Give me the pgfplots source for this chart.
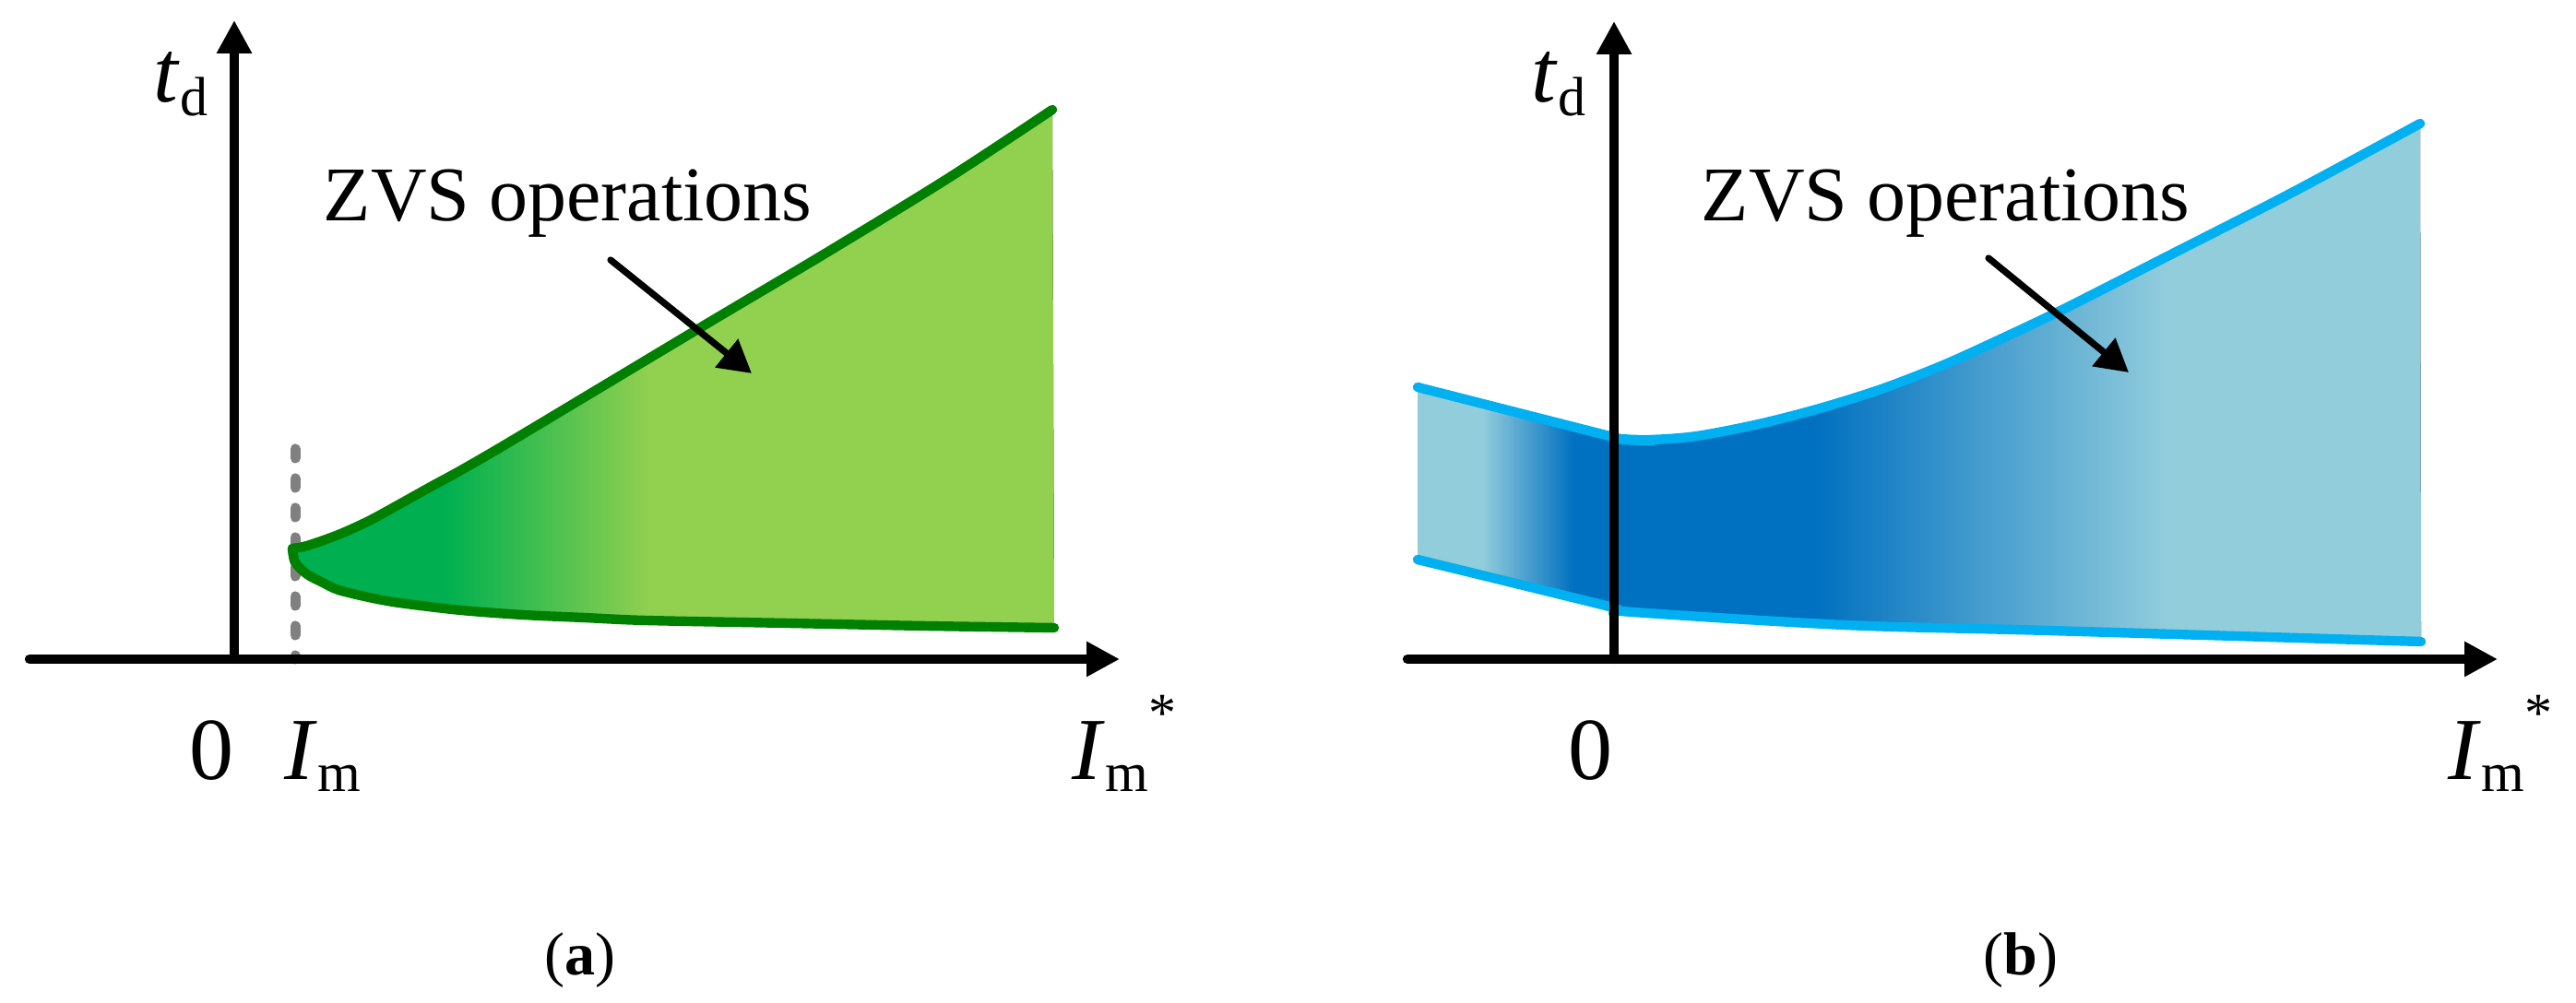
\documentclass[border=0pt]{standalone}
\usepackage{fontspec}
\setmainfont{Liberation Serif}
\usepackage{pgfplots}
\pgfplotsset{compat=1.18}
\usepgfplotslibrary{fillbetween}
\usetikzlibrary{arrows.meta}

\definecolor{gstroke}{HTML}{008000}
\definecolor{gdark}{HTML}{00B050}
\definecolor{glight}{HTML}{92D050}
\definecolor{bstroke}{HTML}{00B0F0}
\definecolor{bdark}{HTML}{0070C0}
\definecolor{blight}{HTML}{92CDDC}
\definecolor{dgray}{HTML}{808080}

\pgfdeclarehorizontalshading{greenfill}{100bp}{color(0bp)=(gdark); color(35.1bp)=(gdark); color(48.5bp)=(glight); color(100bp)=(glight)}
\pgfdeclarehorizontalshading{bluefill}{100bp}{color(0bp)=(blight); color(28.2bp)=(blight); color(32.8bp)=(bdark); color(44.7bp)=(bdark); color(62.4bp)=(blight); color(100bp)=(blight)}

\newcommand\lbfont{\fontsize{24}{24}\selectfont}
\newcommand\lsfont{\fontsize{15}{15}\selectfont}
\newcommand\labtd{{\lbfont\textit{t}\raisebox{-3.75pt}{\lsfont d}}}
\newcommand\labIm{{\lbfont\textit{I}\raisebox{-3.25pt}{\lsfont m}}}
\newcommand\labIms{{\lbfont\textit{I}\raisebox{-3.25pt}{\lsfont m}\raisebox{13pt}{\lsfont *}}}
\newcommand\labzvs{{\fontsize{21}{21}\selectfont ZVS operations}}

\pgfplotstableread{
x y
63 120
79 123
113 135
146 150
179 168
213 187
246 205
306 240
506 360
639 439
773 521
887 596
}\upperA
\pgfplotstableread{
x y
63 120
66 105
79 92
96 83
113 75
146 67
179 61
246 53
313 48
379 45
446 42
600 39
750 36
889 34
}\lowerA
\pgfplotstableread{
x y
-213 295
-5 242
7 239
40 238
90 242
157 255
223 272
290 293
357 319
423 349
490 381
600 437
733 505
874 581
}\upperB
\pgfplotstableread{
x y
-213 108
-5 57
7 52
250 37
471 31
875 19
}\lowerB

\pgfplotsset{
  zvsaxis/.style={
    x=0.25pt, y=0.25pt,
    axis lines=middle, set layers, axis on top,
    xtick=\empty, ytick=\empty,
    clip=false, enlargelimits=false,
    anchor=south west,
    axis line style={line width=2.6pt, line cap=round, -{Triangle[length=9pt,width=9pt]}},
  }
}

\begin{document}
\begin{tikzpicture}
\path (0,0) rectangle (698.25pt,272pt);

% ---------------- panel (a)
\begin{axis}[zvsaxis, at={(8pt,93.25pt)}, xmin=-222, xmax=960, ymin=0, ymax=693]
\addplot[dgray, line width=2.75pt, line cap=round, dash pattern=on 2.5pt off 5.5pt]
  coordinates {(66,228) (66,0)};
\addplot[draw=none, name path=upA, smooth] table {\upperA};
\addplot[draw=none, name path=loA, smooth] table {\lowerA};
\addplot[shade, shading=greenfill, draw=none] fill between[of=upA and loA];
\addplot[gstroke, line width=2.6pt, line cap=round, smooth] table {\upperA};
\addplot[gstroke, line width=2.6pt, line cap=round, smooth] table {\lowerA};
\node[anchor=base west, inner sep=0] at (axis cs:96,475) {\labzvs};
\draw[line width=1.8pt, line cap=round, -{Triangle[length=8.75pt,width=9.5pt]}]
  (axis cs:408,433) -- (axis cs:561,310);
\node[anchor=base west, inner sep=0] at (axis cs:-88,604) {\labtd};
\node[anchor=base, inner sep=0] at (axis cs:-25,-131) {\lbfont 0};
\node[anchor=base west, inner sep=0] at (axis cs:54,-131) {\labIm};
\node[anchor=base west, inner sep=0] at (axis cs:908,-131) {\labIms};
\node[anchor=base, inner sep=0] at (axis cs:375,-343)
  {\fontsize{16.5}{16.5}\selectfont(\textbf{a})};
\end{axis}

% ---------------- panel (b)
\begin{axis}[zvsaxis, at={(381.5pt,93.25pt)}, xmin=-224, xmax=958, ymin=0, ymax=692]
\addplot[draw=none, name path=upB, smooth] table {\upperB};
\addplot[draw=none, name path=loB, smooth] table {\lowerB};
\addplot[shade, shading=bluefill, draw=none] fill between[of=upB and loB];
\addplot[bstroke, line width=2.6pt, line cap=round, smooth] table {\upperB};
\addplot[bstroke, line width=2.6pt, line cap=round, smooth] table {\lowerB};
\node[anchor=base west, inner sep=0] at (axis cs:94,475) {\labzvs};
\draw[line width=1.8pt, line cap=round, -{Triangle[length=8.75pt,width=9.5pt]}]
  (axis cs:406,435) -- (axis cs:558,311);
\node[anchor=base west, inner sep=0] at (axis cs:-90,604) {\labtd};
\node[anchor=base, inner sep=0] at (axis cs:-26,-131) {\lbfont 0};
\node[anchor=base west, inner sep=0] at (axis cs:904,-131) {\labIms};
\node[anchor=base, inner sep=0] at (axis cs:441,-343)
  {\fontsize{16.5}{16.5}\selectfont(\textbf{b})};
\end{axis}
\end{tikzpicture}
\end{document}
